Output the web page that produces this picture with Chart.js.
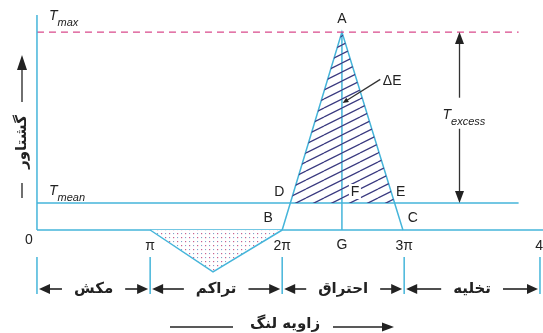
<!DOCTYPE html>
<html>
<head>
<meta charset="utf-8">
<script src="https://cdn.jsdelivr.net/npm/chart.js@4"></script>
<style>
  body { margin: 0; background: #fff; }
  #wrap { width: 543px; height: 333px; }
</style>
</head>
<body>
<div id="wrap"><canvas id="torqueChart"></canvas></div>
<script>
// crank angle in units of pi, as spaced on the drawing
const phaseEdges = [0, 0.9, 1.95, 2.92, 4.0];
const edgeLabels = ['0', 'π', '2π', '3π', '4π'];
const phaseNames = ['مکش', 'تراکم', 'احتراق', 'تخلیه'];

// torque (arbitrary units, Tmean = 1)
const tMean = 1.0;
const tMax = 7.33;
const compressionX = [0.9, 1.4, 1.95];
const compressionY = [0, -1.55, 0];
const powerX = [1.95, 2.425, 2.91];
const powerY = [0, 7.33, 0];
const lineEnd = 3.83;
const excessX = 3.36;

const cyan = '#45b5da';
const navy = '#3a3a80';

function pts(xs, ys) { return xs.map((x, i) => ({x: x, y: ys[i]})); }

// where the power stroke crosses Tmean (D and E)
function crossAt(x1, y1, x2, y2, y) { return x1 + (x2 - x1) * (y - y1) / (y2 - y1); }
const xD = crossAt(powerX[0], powerY[0], powerX[1], powerY[1], tMean);
const xE = crossAt(powerX[2], powerY[2], powerX[1], powerY[1], tMean);

function hatchPattern() {
  const c = document.createElement('canvas');
  c.width = 18; c.height = 9;
  const g = c.getContext('2d');
  g.strokeStyle = navy;
  g.lineWidth = 1.3;
  for (let k = -1; k <= 1; k++) {
    g.beginPath();
    g.moveTo(0, 9 + 9 * k);
    g.lineTo(18, 9 * k);
    g.stroke();
  }
  return g.createPattern(c, 'repeat');
}

function dotPattern() {
  const c = document.createElement('canvas');
  c.width = 8; c.height = 8;
  const g = c.getContext('2d');
  g.fillStyle = '#fff';
  g.fillRect(0, 0, 8, 8);
  g.fillStyle = '#c9608f';
  g.fillRect(1, 1, 1.2, 1.2);
  g.fillRect(5, 5, 1.2, 1.2);
  g.fillStyle = '#7fa3c9';
  g.fillRect(5, 1, 1.1, 1.1);
  g.fillRect(1, 5, 1.1, 1.1);
  return g.createPattern(c, 'repeat');
}

function arrow(ctx, x1, y1, x2, y2, len, half) {
  const a = Math.atan2(y2 - y1, x2 - x1);
  ctx.beginPath();
  ctx.moveTo(x1, y1);
  ctx.lineTo(x2 - Math.cos(a) * len * 0.8, y2 - Math.sin(a) * len * 0.8);
  ctx.stroke();
  ctx.beginPath();
  ctx.moveTo(x2, y2);
  ctx.lineTo(x2 - Math.cos(a) * len - Math.sin(a) * half, y2 - Math.sin(a) * len + Math.cos(a) * half);
  ctx.lineTo(x2 - Math.cos(a) * len + Math.sin(a) * half, y2 - Math.sin(a) * len - Math.cos(a) * half);
  ctx.closePath();
  ctx.fill();
}

function subLabel(ctx, x, y, main, sub) {
  ctx.textAlign = 'left';
  ctx.textBaseline = 'alphabetic';
  ctx.font = 'italic 14px "Liberation Sans"';
  ctx.fillText(main, x, y);
  const w = ctx.measureText(main).width;
  ctx.font = 'italic 11px "Liberation Sans"';
  ctx.fillText(sub, x + w, y + 6);
}

const labels = {
  id: 'labels',
  afterDatasetsDraw(chart) {
    const ctx = chart.ctx;
    const xs = chart.scales.x, ys = chart.scales.y;
    const px = v => xs.getPixelForValue(v);
    const py = v => ys.getPixelForValue(v);
    ctx.save();
    ctx.fillStyle = '#222';
    ctx.strokeStyle = '#222';
    ctx.lineWidth = 1.3;

    subLabel(ctx, px(0) + 12, py(tMax) - 12, 'T', 'max');
    subLabel(ctx, px(0) + 12, py(tMean) - 8, 'T', 'mean');
    subLabel(ctx, px(excessX) - 17, py(4.1), 'T', 'excess');

    // T excess double arrow
    ctx.strokeStyle = '#333'; ctx.fillStyle = '#222';
    arrow(ctx, px(excessX), py(4.9), px(excessX), py(tMax), 12, 4.5);
    arrow(ctx, px(excessX), py(3.75), px(excessX), py(tMean), 12, 4.5);

    // delta E leader
    arrow(ctx, px(2.73), py(5.58), px(2.43), py(4.7), 6, 2.5);
    ctx.font = '14px "Liberation Sans"';
    ctx.textAlign = 'left'; ctx.textBaseline = 'middle';
    ctx.fillText('ΔE', px(2.75), py(5.5));

    // point letters
    ctx.textAlign = 'center';
    const xA = powerX[1];
    ctx.fillText('A', px(xA), py(tMax) - 13);
    ctx.fillText('B', px(powerX[0]) - 14, py(0) - 12);
    ctx.fillText('C', px(powerX[2]) + 10, py(0) - 12);
    ctx.fillText('D', px(xD) - 11, py(tMean) - 11);
    ctx.fillText('E', px(xE) + 6, py(tMean) - 11);
    ctx.fillStyle = '#fff';
    ctx.fillRect(px(xA) + 7, py(tMean) - 19, 12, 15);
    ctx.fillStyle = '#222';
    ctx.fillText('F', px(xA) + 13, py(tMean) - 11);
    ctx.fillText('G', px(xA), py(0) + 15);

    // angle marks
    edgeLabels.forEach((t, i) => {
      if (i === 0) {
        ctx.fillText(t, px(phaseEdges[i]) - 8, py(0) + 10);
      } else {
        ctx.fillText(t, px(phaseEdges[i]) + (i === 4 ? 4 : 0), py(0) + 16);
      }
    });

    // stroke phases
    const tickTop = 257, tickBot = 294, rowY = 289;
    ctx.strokeStyle = cyan; ctx.lineWidth = 1.5;
    phaseEdges.forEach(v => {
      const x = Math.min(px(v), 541);
      ctx.beginPath(); ctx.moveTo(x, tickTop); ctx.lineTo(x, tickBot); ctx.stroke();
    });
    ctx.font = 'bold 15px "DejaVu Sans"';
    ctx.textBaseline = 'alphabetic';
    ctx.strokeStyle = '#222'; ctx.fillStyle = '#222'; ctx.lineWidth = 1.6;
    phaseNames.forEach((name, i) => {
      const a = Math.min(px(phaseEdges[i]), 541), b = Math.min(px(phaseEdges[i + 1]), 541);
      const mid = (a + b) / 2;
      const w = ctx.measureText(name).width;
      ctx.textAlign = 'center';
      ctx.fillText(name, mid, rowY + 4);
      arrow(ctx, mid - w / 2 - 12, rowY, a + 2, rowY, 11, 5);
      arrow(ctx, mid + w / 2 + 12, rowY, b - 2, rowY, 11, 5);
    });

    // axis titles
    ctx.textAlign = 'center';
    ctx.fillText('زاویه لنگ', 285, 328);
    ctx.lineWidth = 1.3;
    ctx.beginPath(); ctx.moveTo(170, 327); ctx.lineTo(233, 327); ctx.stroke();
    arrow(ctx, 333, 327, 394, 327, 12, 4.5);

    arrow(ctx, 22, 102, 22, 55, 15, 5);
    ctx.beginPath(); ctx.moveTo(22, 183); ctx.lineTo(22, 198); ctx.stroke();
    ctx.save();
    ctx.translate(22, 142);
    ctx.rotate(-Math.PI / 2);
    ctx.textBaseline = 'middle';
    ctx.fillText('گشتاور', 0, 0);
    ctx.restore();

    ctx.restore();
  }
};

const ctx = document.getElementById('torqueChart').getContext('2d');
const lineStyle = {borderColor: cyan, borderWidth: 1.5, pointRadius: 0, fill: false, tension: 0};

new Chart(ctx, {
  type: 'line',
  data: {
    datasets: [
      Object.assign({}, lineStyle, {label: 'hatch', data: pts([xD, powerX[1], xE], [tMean, tMax, tMean]),
        borderWidth: 0, fill: {value: tMean}, backgroundColor: hatchPattern()}),
      Object.assign({}, lineStyle, {label: 'compression', data: pts(compressionX, compressionY),
        fill: 'origin', backgroundColor: dotPattern()}),
      Object.assign({}, lineStyle, {label: 'axis', data: pts([0, 0], [7.96, 0])}),
      Object.assign({}, lineStyle, {label: 'zero', data: pts([0, 4.1], [0, 0])}),
      Object.assign({}, lineStyle, {label: 'Tmean', data: pts([0, lineEnd], [tMean, tMean])}),
      Object.assign({}, lineStyle, {label: 'Tmax', data: pts([0, lineEnd], [tMax, tMax]),
        borderColor: '#d94a8c', borderWidth: 1.3, borderDash: [7, 5]}),
      Object.assign({}, lineStyle, {label: 'power', data: pts(powerX, powerY)}),
      Object.assign({}, lineStyle, {label: 'AG', data: pts([powerX[1], powerX[1]], [tMax, 0])})
    ]
  },
  options: {
    responsive: true,
    maintainAspectRatio: false,
    animation: false,
    layout: {padding: 0},
    plugins: {legend: {display: false}, tooltip: {enabled: false}},
    scales: {
      x: {type: 'linear', display: false, min: -0.294, max: 4.024},
      y: {type: 'linear', display: false, min: -3.815, max: 8.519}
    }
  },
  plugins: [labels]
});
</script>
</body>
</html>
